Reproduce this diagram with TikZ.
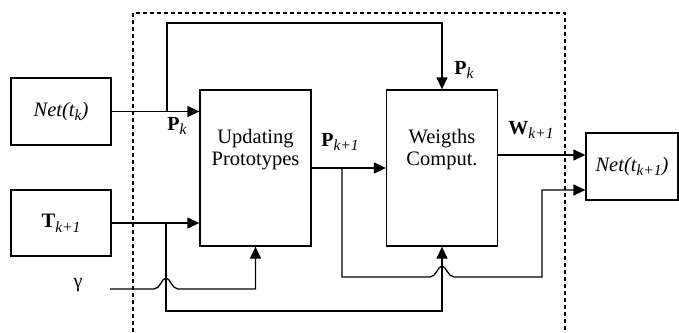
\documentclass[tikz,border=0pt]{standalone}
\usepackage{fontspec}
\setmainfont{Liberation Serif}
\usetikzlibrary{arrows.meta,calc}
\newcommand{\lowidx}[1]{\raisebox{-0.5ex}{\fontsize{15.5}{16}\selectfont\itshape #1}}
\begin{document}
\begin{tikzpicture}[x=1pt,y=-1pt,
  block/.style={draw, line width=1.3pt, inner sep=0pt},
  wire/.style={line width=1.3pt},
  arr/.style={wire, -{Triangle[length=12pt,width=11pt]}},
  txt/.style={font=\fontsize{20.5}{22}\selectfont, align=center, inner sep=0pt},
  lbl/.style={font=\fontsize{20}{21}\selectfont, inner sep=0pt}]
\useasboundingbox (0,0) rectangle (679,332);

% dashed frame around the learning stage (open at the bottom)
\draw[line width=1.2pt, dash pattern=on 4pt off 3pt]
  (133,332) -- (133,13) -- (565,13) -- (565,332);

% blocks
\node[block, minimum width=100pt, minimum height=67pt, txt] (nk) at (61,111.5) {\itshape Net(t\lowidx{k})};
\node[block, minimum width=100pt, minimum height=66pt, txt] (tk) at (61,223) {\textbf{T}\lowidx{k+1}};
\node[block, minimum width=111pt, minimum height=156pt] (upd) at (255.5,168) {};
\node[block, minimum width=111pt, minimum height=156pt] (wts) at (442,168) {};
\node[block, minimum width=92pt, minimum height=67pt, txt] (nk1) at (632,166.5) {\itshape Net(t\lowidx{k+1})};

\node[txt] (updtxt) at (255.5,150) {Updating\\Prototypes};
\node[txt] (wtstxt) at (442,150) {Weigths\\Comput.};

% tap points and routing coordinates
\coordinate (tapP) at (167,111.5);
\coordinate (tapT) at (166,223);
\coordinate (tapQ) at (342,168);
\coordinate (wy) at (0,155);
\coordinate (qy) at (0,190);
\coordinate (gstart) at (110,289);

% signal paths
\draw[arr] (nk.east) -- (nk.east -| upd.west);
\draw[arr] (tapP) -- (167,23) -| (wts.north);
\draw[arr] (tk.east) -- (tk.east -| upd.west);
\draw[arr] (tapT) -- (166,311) -| (wts.south);
\draw[arr] (gstart) -- (154,289)
  .. controls (160,289) and (162,278) .. (166,278)
  .. controls (170,278) and (172,289) .. (178,289) -| (upd.south);
\draw[arr] (upd.east) -- (upd.east -| wts.west);
\draw[arr] (tapQ) -- (342,277) -- (430,277)
  .. controls (436,277) and (438,266) .. (442,266)
  .. controls (446,266) and (448,277) .. (454,277)
  -- (542,277) -- (542,190) -- (nk1.west |- qy);
\draw[arr] (wts.east |- wy) -- (nk1.west |- wy);

% signal labels
\node[lbl] (lpk) at (177,126) {\textbf{P}\lowidx{k}};
\node[lbl] (lpk2) at (464,70) {\textbf{P}\lowidx{k}};
\node[lbl] (lpk1) at (340,142) {\textbf{P}\lowidx{k+1}};
\node[lbl] (lwk1) at (531,130) {\textbf{W}\lowidx{k+1}};
\node[lbl] (lgam) at (78,285) {γ};
\end{tikzpicture}
\end{document}
